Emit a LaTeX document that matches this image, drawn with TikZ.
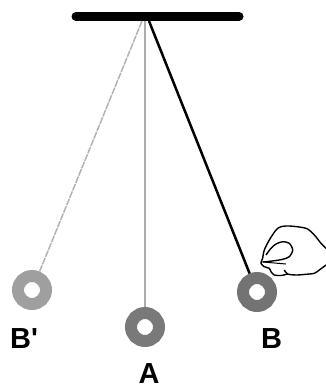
\documentclass[tikz,border=0pt]{standalone}
\usepackage{fontspec}
\setmainfont{Liberation Sans}[Ligatures=TeXOff]
\usepackage{tikz}
\usetikzlibrary{positioning}
\tikzstyle{bob} = [circle, minimum size=28pt, inner sep=0pt, line width=12pt]
\tikzstyle{lbl} = [font=\fontsize{29}{31}\selectfont\bfseries, inner sep=0pt]
\tikzstyle{thread} = [line width=1.5pt, gray!65]

\begin{document}
\begin{tikzpicture}[x=1pt, y=-1pt]
    \useasboundingbox (0,0) rectangle (326,388);
    \draw[line width=9pt, line cap=round] (76,16.5) -- (239,16.5);
    \coordinate (pivBp) at (142,21);
    \coordinate (pivA) at (145,21);
    \coordinate (pivB) at (149,21);

    \node[bob, draw=gray!75] (Bp) at (32,290) {};
    \node[bob, draw=gray!95!black] (A) at (145,327) {};
    \node[bob, draw=gray!90!black] (B) at (257,292) {};

    \draw[thread, gray!60, dash pattern=on 7pt off 1pt] (pivBp) -- (Bp);
    \draw[thread] (pivA) -- (A);
    \draw[line width=2.5pt] (pivB) -- (B);

    \node[lbl] (lBp) at (24,339) {B'};
    \node[lbl] (lA) at (149,374) {A};
    \node[lbl] (lB) at (271.5,339) {B};

    \draw[line width=1.4pt, line join=round] plot[smooth] coordinates {(262.7,258.3) (264.3,250) (269.3,240) (276,230) (281,226.7) (289.3,226) (306,228.3) (314.3,235) (321,243.3) (326,248.3)};
    \draw[line width=1.4pt, line join=round] plot[smooth] coordinates {(326,265) (319.3,270) (314.3,273.3) (306,274.3) (296,275) (287.7,274) (284.3,270)};
    \draw[line width=1.4pt, line join=round] plot[smooth] coordinates {(287.7,274) (281,275.5) (274.3,275) (271,271.7) (269.3,268.3) (264.3,266.7) (261,263.3) (262.7,258.3)};
    \draw[line width=1.4pt, line join=round] plot[smooth] coordinates {(266,255) (271,248.3) (276,244) (282.7,241.7) (289.3,243.3) (292.7,250) (289.3,256.7) (282.7,259.3) (274.3,260.7) (266,261.7) (262.7,261.7)};
    \draw[line width=1pt] (262.7,262) -- (286,264);
\end{tikzpicture}
\end{document}
